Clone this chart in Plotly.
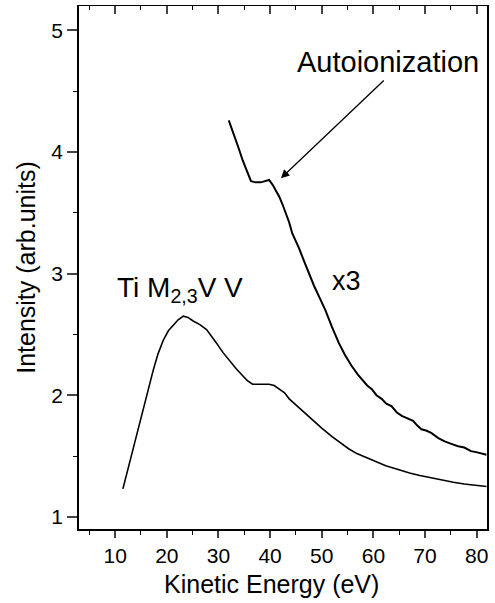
import plotly.graph_objects as go

# Lower curve: Ti M2,3VV spectrum
energy_low = [11.5, 12.5, 13.6, 14.5, 15.5, 16.5, 17.4, 18.3, 19.3, 20.3, 21.3, 22.2, 23.2, 24.1,
              25.1, 26.4, 27.7, 28.6, 29.6, 30.9, 32.2, 33.4, 34.7, 35.6, 36.6, 38.2, 39.8, 40.8,
              41.8, 42.8, 43.7, 45.5, 48.2, 50.0, 52.0, 53.6, 55.2, 56.8, 58.4, 60.0, 62.4, 64.8,
              67.0, 69.0, 71.2, 73.5, 75.5, 77.6, 79.8, 81.9]
intensity_low = [1.23, 1.40, 1.58, 1.73, 1.89, 2.06, 2.21, 2.34, 2.45, 2.53, 2.58, 2.62, 2.65, 2.64,
                 2.61, 2.58, 2.54, 2.49, 2.43, 2.35, 2.28, 2.22, 2.16, 2.12, 2.09, 2.09, 2.09, 2.08,
                 2.05, 2.02, 1.97, 1.90, 1.80, 1.73, 1.66, 1.61, 1.56, 1.52, 1.49, 1.46, 1.42, 1.39,
                 1.36, 1.34, 1.32, 1.30, 1.285, 1.27, 1.26, 1.25]

# Upper curve: x3 magnified
energy_up = [32.0, 32.7, 33.4, 34.0, 34.7, 35.5, 36.3, 37.2, 38.2, 39.0, 39.8, 40.5, 41.2, 41.8,
             42.4, 43.0, 43.7, 44.3, 45.0, 45.6, 46.5, 47.5, 48.5, 49.6, 50.7, 52.0, 53.3, 54.5,
             55.8, 57.0, 57.8, 58.8, 59.7, 60.6, 61.6, 62.5, 63.5, 64.5, 65.5, 66.6, 67.7, 68.5,
             69.3, 70.2, 71.2, 72.5, 73.8, 75.1, 76.4, 77.6, 78.9, 80.1, 81.0, 81.9]
intensity_up = [4.26, 4.18, 4.10, 4.02, 3.93, 3.84, 3.76, 3.75, 3.75, 3.76, 3.77, 3.73, 3.68, 3.63,
                3.57, 3.50, 3.42, 3.33, 3.27, 3.21, 3.11, 3.00, 2.90, 2.80, 2.70, 2.56, 2.43, 2.33,
                2.24, 2.17, 2.13, 2.08, 2.05, 2.00, 1.97, 1.93, 1.91, 1.86, 1.83, 1.81, 1.79, 1.75,
                1.72, 1.71, 1.69, 1.65, 1.62, 1.60, 1.58, 1.57, 1.54, 1.53, 1.52, 1.51]

x_range = [3, 82]
y_range = [0.9, 5.2]
x_ticks = [10, 20, 30, 40, 50, 60, 70, 80]
y_ticks = [1, 2, 3, 4, 5]

FONT = "Liberation Sans, Arial, sans-serif"

fig = go.Figure()
fig.add_trace(go.Scatter(x=energy_low, y=intensity_low, mode="lines",
                         line=dict(color="black", width=1.6), showlegend=False))
fig.add_trace(go.Scatter(x=energy_up, y=intensity_up, mode="lines",
                         line=dict(color="black", width=2), showlegend=False))
# invisible trace to activate the top axis
fig.add_trace(go.Scatter(x=energy_low, y=intensity_low, mode="lines", xaxis="x2",
                         line=dict(color="rgba(0,0,0,0)", width=0), showlegend=False,
                         hoverinfo="skip"))

fig.update_layout(
    width=495, height=603,
    margin=dict(l=79, r=6, t=6, b=74),
    paper_bgcolor="white", plot_bgcolor="white",
    font=dict(family=FONT, color="black"),
    xaxis=dict(range=x_range, tickvals=x_ticks, ticks="outside", ticklen=7, tickwidth=1.5,
               showline=True, linewidth=2, linecolor="black", showgrid=False, zeroline=False,
               tickfont=dict(size=21),
               minor=dict(tickvals=[5, 15, 25, 35, 45, 55, 65, 75], ticks="outside",
                          ticklen=4, tickwidth=1.2, tickcolor="black")),
    xaxis2=dict(range=x_range, overlaying="x", side="top", tickvals=x_ticks, ticks="inside",
                ticklen=8, tickwidth=1.5, showticklabels=False, showline=True, linewidth=1.2,
                linecolor="black", showgrid=False, zeroline=False,
                minor=dict(tickvals=[5, 15, 25, 35, 45, 55, 65, 75], ticks="inside",
                           ticklen=4, tickwidth=1.2, tickcolor="black")),
    yaxis=dict(range=y_range, tickvals=y_ticks, ticks="outside", ticklen=10, tickwidth=1.5,
               showline=True, linewidth=1.5, linecolor="black", mirror=True, showgrid=False,
               zeroline=False, tickfont=dict(size=21),
               minor=dict(tickvals=[1.5, 2.5, 3.5, 4.5], ticks="outside", ticklen=4,
                          tickwidth=1.2, tickcolor="black"),
               title=dict(text="Intensity (arb.units)", font=dict(size=25), standoff=9)),
)

fig.add_annotation(xref="paper", yref="paper", x=0.473, y=0, yanchor="middle", yshift=-55,
                   text="Kinetic Energy (eV)", showarrow=False, font=dict(size=25, family=FONT))
fig.add_annotation(x=62.9, y=4.74, text="Autoionization", showarrow=False,
                   font=dict(size=29, family=FONT))
fig.add_annotation(x=42.1, y=3.784, ax=62.3, ay=4.60, axref="x", ayref="y", text="",
                   showarrow=True, arrowhead=2, arrowsize=1.3, arrowwidth=1.3, arrowcolor="black")
fig.add_annotation(x=54.7, y=2.94, text="x3", showarrow=False, font=dict(size=27, family=FONT))
fig.add_annotation(x=22.5, y=2.87, text="Ti M<sub>2,3</sub>V V", showarrow=False,
                   font=dict(size=28, family=FONT))

fig.write_html("out.html")
